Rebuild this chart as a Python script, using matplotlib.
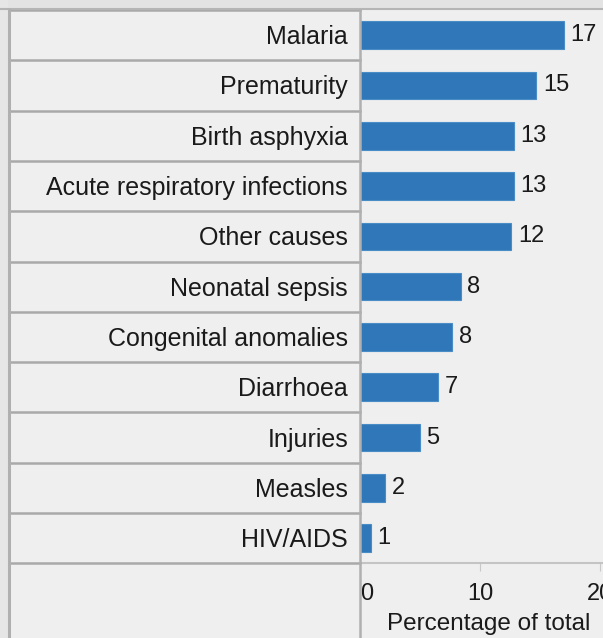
import matplotlib.pyplot as plt
from matplotlib.lines import Line2D
from matplotlib.patches import Rectangle

causes = ['Malaria', 'Prematurity', 'Birth asphyxia', 'Acute respiratory infections',
          'Other causes', 'Neonatal sepsis', 'Congenital anomalies', 'Diarrhoea',
          'Injuries', 'Measles', 'HIV/AIDS']
values = [17.0, 14.7, 12.8, 12.8, 12.6, 8.4, 7.7, 6.5, 5.0, 2.1, 0.9]
shown = ['17', '15', '13', '13', '12', '8', '8', '7', '5', '2', '1']
ticks = [0, 10, 20]

W, H = 603, 638
BG = '#efefef'
GRID = '#a9a9a9'
BAR = '#2f77b8'
TXT = '#1a1a1a'
plt.rcParams['font.family'] = ['Liberation Sans', 'DejaVu Sans']


def fx(px):
    return px / W


def fy(py):
    return 1 - py / H


fig = plt.figure(figsize=(W / 100, H / 100), dpi=100, facecolor=BG)

# outer area above/left of the panel (screenshot edge)
fig.add_artist(Rectangle((0, fy(8)), 1, 1 - fy(8), transform=fig.transFigure,
                         facecolor='#e3e3e3', edgecolor='none'))
fig.add_artist(Rectangle((0, 0), fx(8), 1, transform=fig.transFigure,
                         facecolor='#e6e6e6', edgecolor='none'))

top, row_h, x_div, x_left = 10, 50.3, 360, 9
n = len(causes)
bottom = top + n * row_h

ax = fig.add_axes([fx(x_div), fy(bottom), 1 - fx(x_div), fy(top) - fy(bottom)])
ax.set_facecolor(BG)
ypos = list(range(n))
ax.barh(ypos, values, height=0.55, color=BAR, edgecolor='#4a8cc6', linewidth=0.8)
for y, v, s in zip(ypos, values, shown):
    ax.text(v + 0.55, y, s, va='center', ha='left', fontsize=17, color=TXT)
xmax = (W - x_div) / 12.0
ax.set_xlim(0, xmax)
ax.set_ylim(n - 0.5, -0.5)
ax.set_yticks([])
ax.set_xticks(ticks)
ax.set_xticklabels([str(t) for t in ticks], fontsize=17, color=TXT)
ax.get_xticklabels()[0].set_horizontalalignment('left')
ax.tick_params(axis='x', length=6, color='#c8c8c8', pad=8)
ax.set_xlabel('Percentage of total', fontsize=17.5, color=TXT, labelpad=6, x=0.53)
for side in ['top', 'right', 'left']:
    ax.spines[side].set_visible(False)
ax.spines['bottom'].set_color('#c4c4c4')
ax.spines['bottom'].set_linewidth(1.5)

# label column: text and row separators
for i, c in enumerate(causes):
    yc = top + (i + 0.5) * row_h + 2
    fig.text(fx(348), fy(yc), c, ha='right', va='center', fontsize=18, color=TXT)
for i in range(n + 1):
    yb = top + i * row_h
    fig.add_artist(Line2D([fx(x_left), fx(x_div)], [fy(yb), fy(yb)],
                          transform=fig.transFigure, color=GRID, lw=1.8))
fig.add_artist(Line2D([0, 1], [fy(top - 1), fy(top - 1)], transform=fig.transFigure,
                      color='#b5b5b5', lw=1.5))
fig.add_artist(Line2D([fx(x_left), fx(x_left)], [0, fy(top)], transform=fig.transFigure,
                      color='#b0b0b0', lw=2.2))
fig.add_artist(Line2D([fx(x_div), fx(x_div)], [0, fy(top)], transform=fig.transFigure,
                      color='#b0b0b0', lw=1.8))

fig.savefig('out.png', dpi=100, facecolor=BG)
